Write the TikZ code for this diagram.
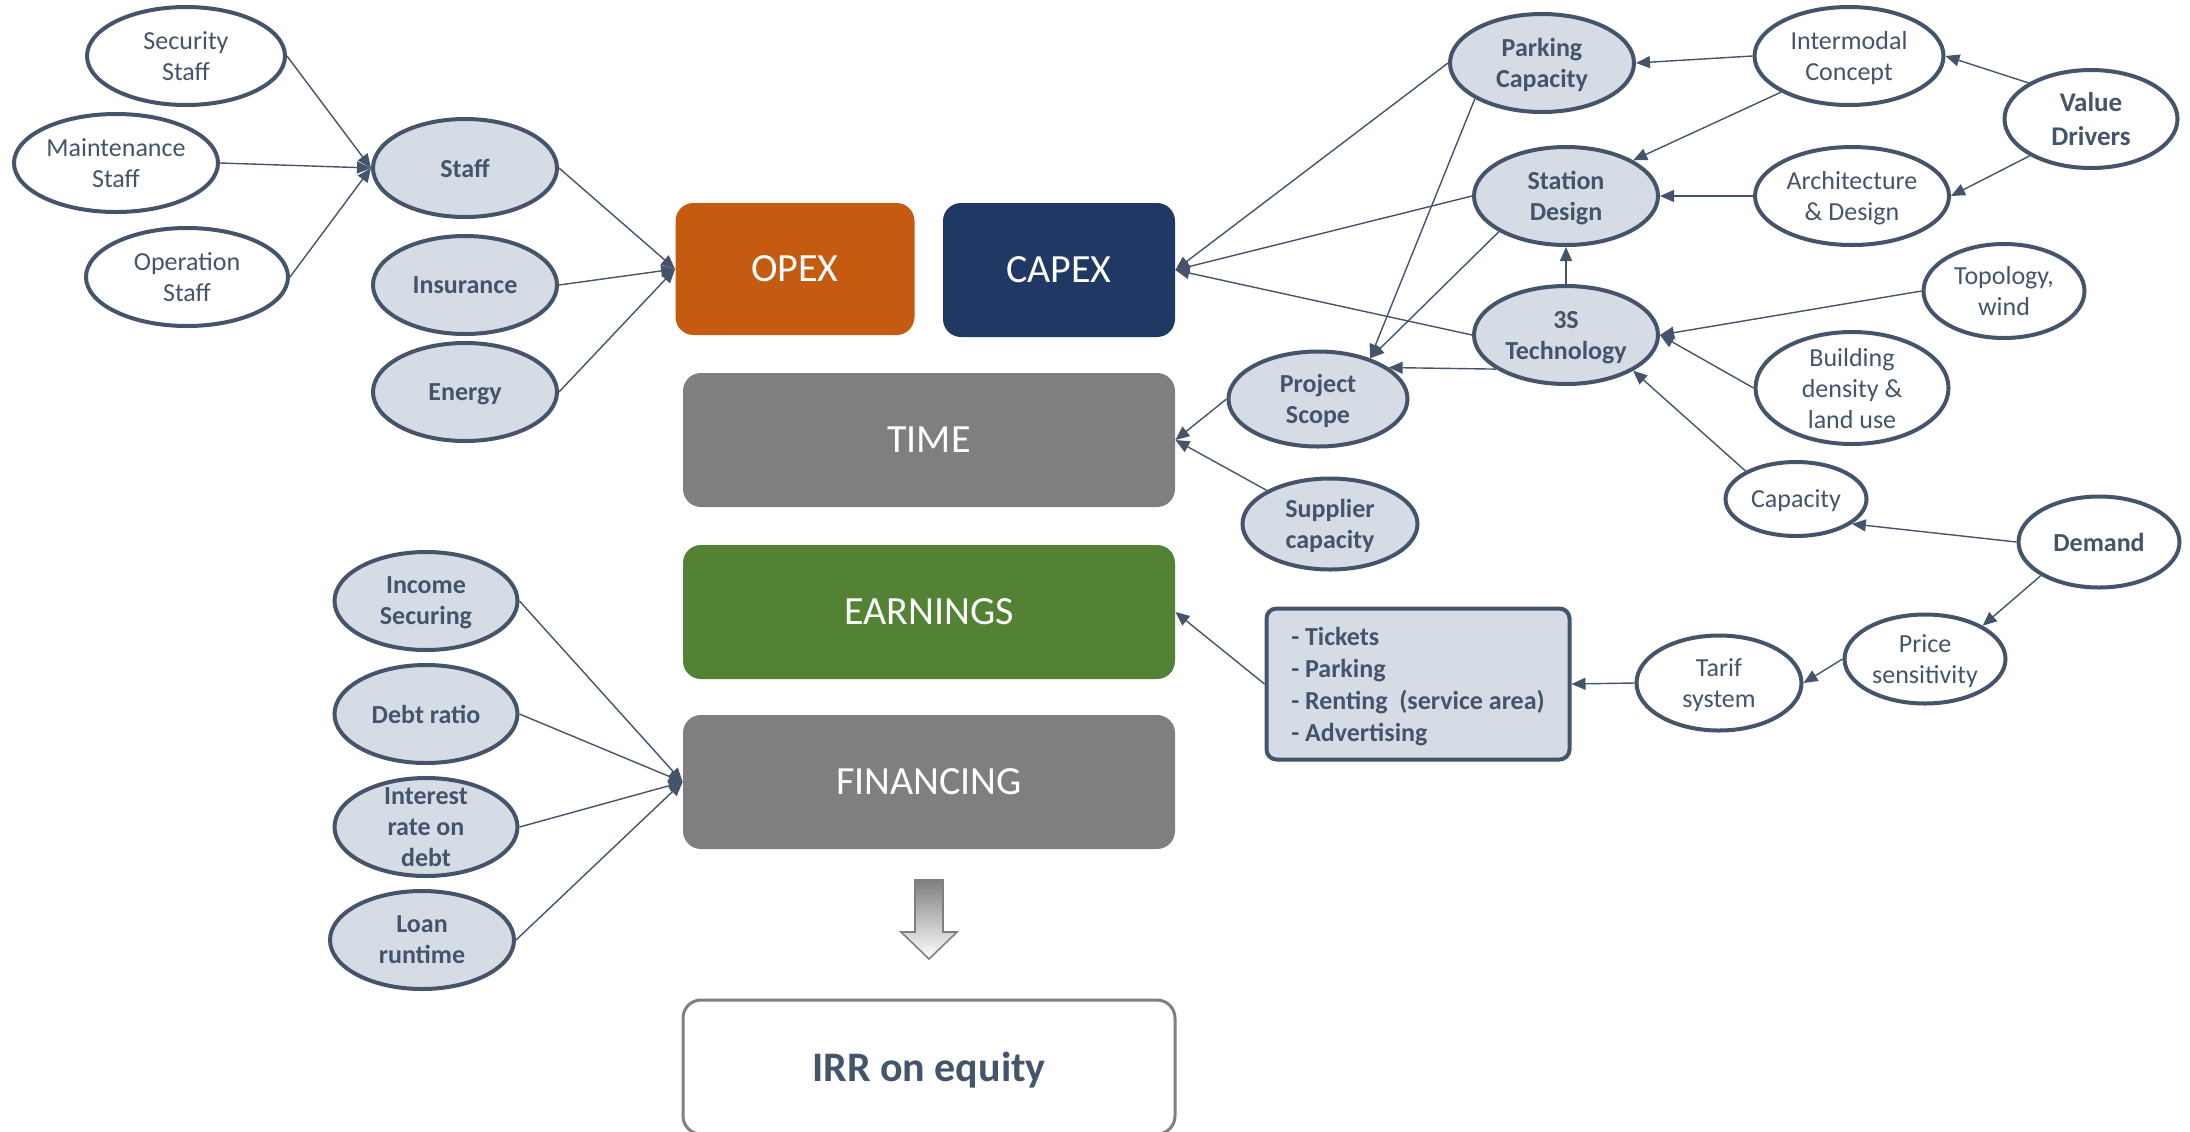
\documentclass[tikz,border=0pt]{standalone}
\usepackage{fontspec}
\setmainfont{Carlito}
\usetikzlibrary{arrows.meta,shapes.geometric}

\definecolor{slate}{RGB}{68,84,106}
\definecolor{paleblue}{RGB}{214,220,229}
\definecolor{opexorange}{RGB}{197,90,17}
\definecolor{capexblue}{RGB}{32,56,100}
\definecolor{midgray}{RGB}{127,127,127}
\definecolor{earngreen}{RGB}{84,130,53}

\tikzset{
  oval/.style={ellipse, draw=slate, line width=2pt, inner sep=-6pt,
    minimum width=92pt, minimum height=49pt, align=center, text=slate,
    text depth=0pt, font=\fontsize{13}{15.5}\selectfont},
  plainoval/.style={oval, fill=white},
  keyoval/.style={oval, fill=paleblue, font=\fontsize{13}{15.5}\selectfont\bfseries},
  block/.style={rectangle, rounded corners=9pt, minimum width=246pt,
    minimum height=67pt, text=white, text depth=0pt, font=\fontsize{20}{24}\selectfont},
  feed/.style={draw=slate, line width=0.7pt, -{Triangle[length=7pt, width=6pt]}},
}

\begin{document}
\begin{tikzpicture}[x=0.5pt, y=-0.5pt]
    \useasboundingbox (0,0) rectangle (2190,1131);
    \clip (0,0) rectangle (2190,1131);

    % 中间的主框
    \node[block, fill=opexorange, minimum width=119.5pt, minimum height=66pt] (opex) at (795,269) {OPEX};
    \node[block, fill=capexblue, minimum width=116pt] (capex) at (1059,270) {CAPEX};
    \node[block, fill=midgray] (time) at (929,440) {TIME};
    \node[block, fill=earngreen] (earn) at (929,612) {EARNINGS};
    \node[block, fill=midgray] (finance) at (929,782) {FINANCING};
    \node[block, fill=white, draw=midgray, line width=1.5pt, text=slate,
          font=\fontsize{21}{25}\selectfont\bfseries] (irr) at (929,1067) {IRR on equity};

    % 向下的箭头, 渐变填充
    \draw[midgray, line width=0.8pt, top color=midgray, bottom color=white]
         (915,880) -- (943,880) -- (943,932) -- (957,932) -- (929,959)
         -- (901,932) -- (915,932) -- cycle;

    % 左侧: OPEX 的因素
    \node[plainoval, minimum width=99pt] (secstaff) at (186,56) {Security\\Staff};
    \node[plainoval, minimum width=102pt] (mainstaff) at (116,163) {Maintenance\\Staff};
    \node[plainoval, minimum width=101pt] (opstaff) at (187,277) {Operation\\Staff};
    \node[keyoval] (staff) at (465,168) {Staff};
    \node[keyoval] (insur) at (465,285) {Insurance};
    \node[keyoval] (energy) at (465,392) {Energy};

    \foreach \src in {secstaff, mainstaff, opstaff}
        \draw[feed] (\src.east) -- (staff.west);
    \foreach \src in {staff, insur, energy}
        \draw[feed] (\src.east) -- (opex.west);

    % 左下: FINANCING 的因素
    \node[keyoval, minimum width=91.5pt] (income) at (426,601) {Income\\Securing};
    \node[keyoval, minimum width=91.5pt] (debt) at (426,714) {Debt ratio};
    \node[keyoval, minimum width=91.5pt] (interest) at (426,827) {Interest\\rate on\\debt};
    \node[keyoval] (loan) at (422,940) {Loan\\runtime};

    \foreach \src in {income, debt, interest, loan}
        \draw[feed] (\src.east) -- (finance.west);

    % 右侧: CAPEX 和 TIME 的因素
    \node[keyoval] (parking) at (1542,63) {Parking\\Capacity};
    \node[keyoval] (station) at (1566,196) {Station\\Design};
    \node[keyoval] (tech) at (1566,335) {3S\\Technology};
    \node[keyoval, minimum width=89.5pt, minimum height=47.5pt] (scope) at (1318,399) {Project\\Scope};
    \node[keyoval, minimum width=87.5pt, minimum height=45.5pt] (supplier) at (1330,524) {Supplier\\capacity};

    \node[plainoval, minimum width=94.5pt] (intermodal) at (1849,56) {Intermodal\\Concept};
    \node[plainoval, minimum width=86.5pt,
          font=\fontsize{13.5}{16.7}\selectfont\bfseries] (value) at (2091,119) {Value\\Drivers};
    \node[plainoval, minimum width=97pt] (arch) at (1852,196) {Architecture\\\&~Design};
    \node[plainoval, minimum width=80.5pt, minimum height=47pt] (topo) at (2004,291) {Topology,\\wind};
    \node[plainoval, minimum width=96.5pt, minimum height=56pt] (building) at (1852,388) {Building\\density~\&\\land use};
    \node[plainoval, minimum width=70.5pt, minimum height=37pt] (capacity) at (1796,499) {Capacity};
    \node[plainoval, minimum width=80.5pt, minimum height=45.5pt,
          font=\fontsize{13}{15.5}\selectfont\bfseries] (demand) at (2099,542) {Demand};
    \node[plainoval, minimum width=80.5pt, minimum height=44.5pt] (price) at (1925,659) {Price\\sensitivity};
    \node[plainoval, minimum width=82.5pt, minimum height=47.5pt] (tarif) at (1719,683) {Tarif\\system};

    % 收入的列表
    \node[rectangle, draw=slate, line width=2pt, fill=paleblue, rounded corners=5pt,
          minimum width=151.5pt, minimum height=75.5pt, align=left, text=slate, text depth=0pt,
          font=\fontsize{13}{16}\selectfont\bfseries] (revenue) at (1418,684)
          {- Tickets\\- Parking\\- Renting~ (service area)\\- Advertising};

    \draw[feed] (parking.west) -- (capex.east);
    \draw[feed] (station.west) -- (capex.east);
    \draw[feed] (tech.west) -- (capex.east);
    \draw[feed] (parking.208) -- (scope.38);
    \draw[feed] (station.208) -- (scope.38);
    \draw[feed] (tech.206) -- (scope.24);
    \draw[feed] (scope.west) -- (time.east);
    \draw[feed] (supplier.152) -- (time.east);

    \draw[feed] (intermodal.west) -- (parking.east);
    \draw[feed] (intermodal.208) -- (station.28);
    \draw[feed] (value.150) -- (intermodal.east);
    \draw[feed] (value.211) -- (arch.east);
    \draw[feed] (arch.west) -- (station.east);
    \draw[feed] (tech.north) -- (station.south);
    \draw[feed] (topo.west) -- (tech.east);
    \draw[feed] (building.west) -- (tech.east);
    \draw[feed] (capacity.151) -- (tech.332);

    \draw[feed] (demand.west) -- (capacity.336);
    \draw[feed] (demand.210) -- (price.30);
    \draw[feed] (price.west) -- (tarif.east);
    \draw[feed] (tarif.west) -- (revenue.east);
    \draw[feed] (revenue.west) -- (earn.east);
\end{tikzpicture}
\end{document}
